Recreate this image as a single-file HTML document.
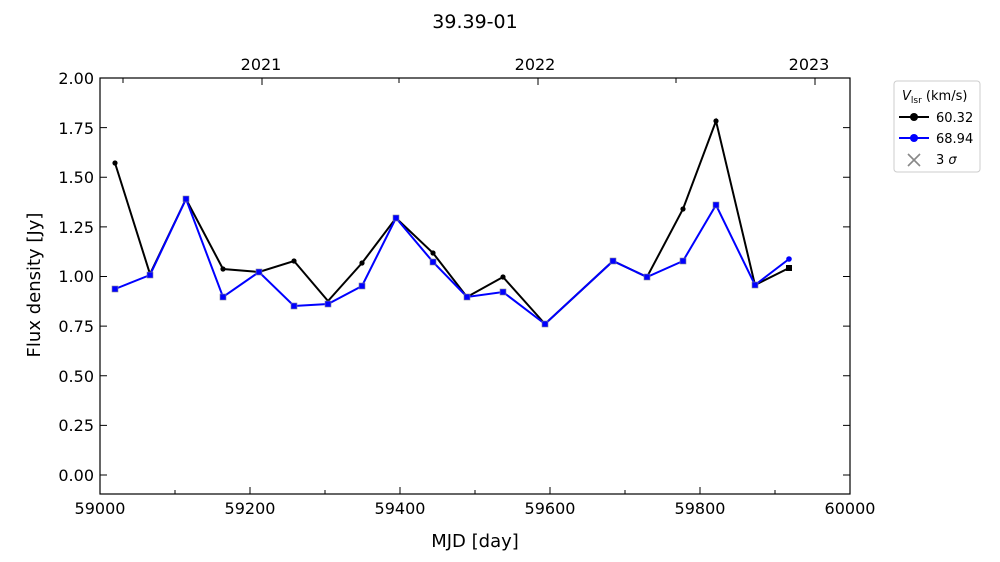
<!DOCTYPE html>
<html><head><meta charset="utf-8"><style>body{margin:0;background:#fff}svg{display:block}text{font-family:"DejaVu Sans","Liberation Sans",sans-serif}</style></head>
<body>
<svg width="1000" height="562" xmlns="http://www.w3.org/2000/svg">
<text x="475" y="28" font-size="19" text-anchor="middle">39.39-01</text>
<rect x="100" y="78" width="750" height="416" fill="none" stroke="#000" stroke-width="1.2"/>
<g stroke="#000" stroke-width="1">
<!-- bottom ticks -->
<path d="M100 494v-7M175 494v-4M250 494v-7M325 494v-4M400 494v-7M475 494v-4M550 494v-7M625 494v-4M700 494v-7M775 494v-4M850 494v-7"/>
<!-- left/right y ticks -->
<path d="M100 475h7M100 425.4h7M100 375.8h7M100 326.1h7M100 276.5h7M100 226.9h7M100 177.3h7M100 127.6h7M100 78h7"/>
<path d="M850 475h-7M850 425.4h-7M850 375.8h-7M850 326.1h-7M850 276.5h-7M850 226.9h-7M850 177.3h-7M850 127.6h-7"/>
<!-- top ticks -->
<path d="M123 78v5M262 78v7M399 78v5M538 78v7M676 78v5M815 78v7"/>
</g>
<g font-size="16" text-anchor="middle">
<text x="100" y="514">59000</text><text x="250" y="514">59200</text><text x="400" y="514">59400</text><text x="550" y="514">59600</text><text x="700" y="514">59800</text><text x="850" y="514">60000</text>
<text x="261" y="70">2021</text><text x="535" y="70">2022</text><text x="809" y="70">2023</text>
</g>
<g font-size="16" text-anchor="end">
<text x="94" y="481">0.00</text><text x="94" y="431">0.25</text><text x="94" y="382">0.50</text><text x="94" y="332">0.75</text><text x="94" y="282">1.00</text><text x="94" y="233">1.25</text><text x="94" y="183">1.50</text><text x="94" y="134">1.75</text><text x="94" y="84">2.00</text>
</g>
<text x="475" y="547" font-size="18" text-anchor="middle">MJD [day]</text>
<text transform="translate(40,285) rotate(-90)" font-size="18" text-anchor="middle">Flux density [Jy]</text>
<polyline fill="none" stroke="#000" stroke-width="2" points="115,163 150,274 186,199 223,269 259,272 294,261 328,301 362,263 396,218 433,253 467,297 503,277 545,324 613,261 647,277 683,209 716,121 755,285 789,268"/>
<g fill="#000"><circle cx="115" cy="163" r="2.6"/><circle cx="223" cy="269" r="2.6"/><circle cx="294" cy="261" r="2.6"/><circle cx="362" cy="263" r="2.6"/><circle cx="433" cy="253" r="2.6"/><circle cx="503" cy="277" r="2.6"/><circle cx="683" cy="209" r="2.6"/><circle cx="716" cy="121" r="2.6"/><rect x="786" y="265" width="6" height="6"/></g>
<polyline fill="none" stroke="#00f" stroke-width="2" points="115,289 150,275 186,199 223,297 259,272 294,306 328,304 362,286 396,218 433,262 467,297 503,292 545,324 613,261 647,277 683,261 716,205 755,285 789,259"/>
<g fill="#00f" stroke="#889" stroke-width="0.6">
<rect x="112" y="286" width="6" height="6"/><rect x="147" y="272" width="6" height="6"/><rect x="183" y="196" width="6" height="6"/><rect x="220" y="294" width="6" height="6"/><rect x="256" y="269" width="6" height="6"/><rect x="291" y="303" width="6" height="6"/><rect x="325" y="301" width="6" height="6"/><rect x="359" y="283" width="6" height="6"/><rect x="393" y="215" width="6" height="6"/><rect x="430" y="259" width="6" height="6"/><rect x="464" y="294" width="6" height="6"/><rect x="500" y="289" width="6" height="6"/><rect x="542" y="321" width="6" height="6"/><rect x="610" y="258" width="6" height="6"/><rect x="644" y="274" width="6" height="6"/><rect x="680" y="258" width="6" height="6"/><rect x="713" y="202" width="6" height="6"/><rect x="752" y="282" width="6" height="6"/></g>
<circle cx="789" cy="259" r="2.8" fill="#00f"/>
<rect x="894" y="81" width="86" height="91" rx="3" fill="#fff" stroke="#ccc"/>
<text x="902" y="100" font-size="13"><tspan font-style="italic">V</tspan><tspan font-size="9" dy="3">lsr</tspan><tspan dy="-3"> (km/s)</tspan></text>
<line x1="899" y1="117" x2="929" y2="117" stroke="#000" stroke-width="2"/><circle cx="914" cy="117" r="4" fill="#000"/>
<text x="936" y="122" font-size="13">60.32</text>
<line x1="899" y1="138" x2="929" y2="138" stroke="#00f" stroke-width="2"/><circle cx="914" cy="138" r="4" fill="#00f"/>
<text x="936" y="143" font-size="13">68.94</text>
<path d="M908 154l12 12M920 154l-12 12" stroke="#888" stroke-width="1.6"/>
<text x="936" y="164" font-size="13">3 <tspan font-style="italic">σ</tspan></text>
</svg>
</body></html>
